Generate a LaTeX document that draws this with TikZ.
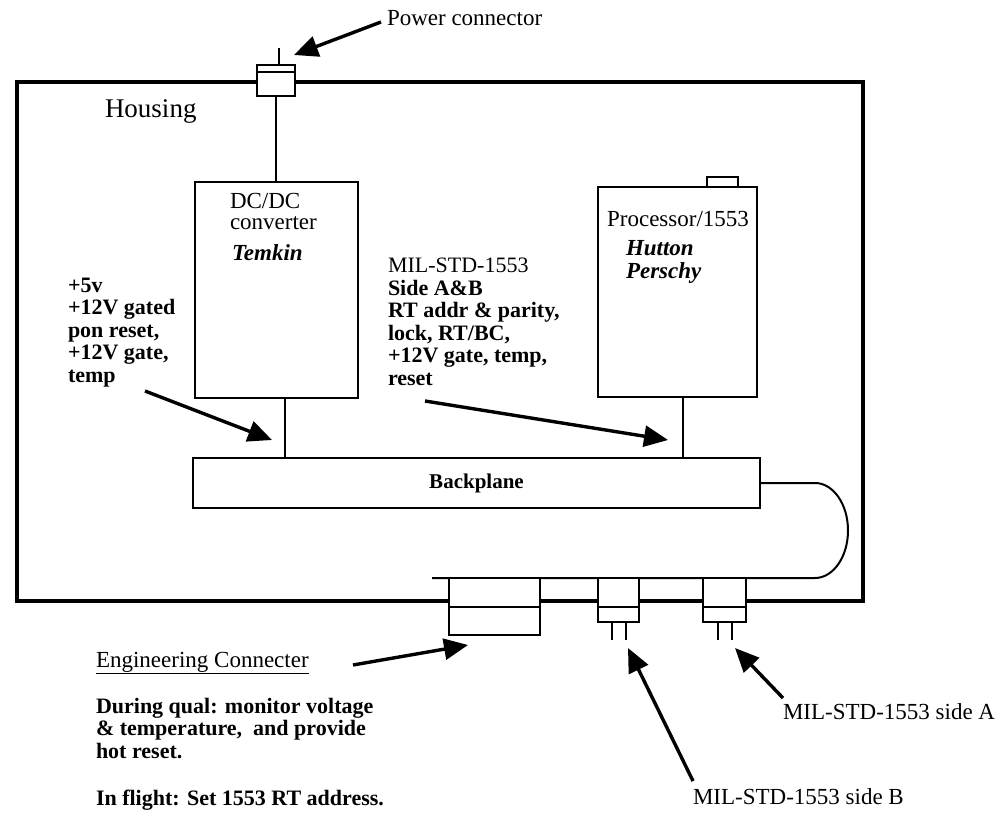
\documentclass[tikz,border=0pt]{standalone}
\usepackage{fontspec}
\setmainfont{Liberation Serif}
\usetikzlibrary{arrows.meta,calc}
\begin{document}
\begin{tikzpicture}[x=1pt,y=-1pt,
  every node/.style={inner sep=0pt, outer sep=0pt},
  box/.style={draw, line width=2.6pt, fill=white, rectangle, anchor=north west},
  wire/.style={line width=2pt},
  housing/.style={line width=3.8pt},
  pointer/.style={line width=3.4pt, -{Triangle[length=24pt,width=21pt]}},
  lbl/.style={font=\fontsize{23}{23}\selectfont, anchor=west},
  blk/.style={font=\fontsize{22}{22.5}\selectfont\bfseries, align=left, anchor=north west},
]
\useasboundingbox (0,0) rectangle (1003,814);

% housing
\node[draw, housing, rectangle, minimum width=846, minimum height=519, anchor=north west] (housing) at (17,82) {};
\node[anchor=west, font=\fontsize{27}{27}\selectfont] (housinglbl) at (105,111) {Housing};

% power connector
\node[box, minimum width=38, minimum height=31] (pc) at (257,65) {};
\draw[wire] ($(pc.north west)+(0,7)$) -- ($(pc.north east)+(0,7)$);
\coordinate (pintop) at (279,48);
\draw[wire] (pintop) -- (pintop |- pc.north);
\node[lbl] (pclbl) at (387,18) {Power connector};
\coordinate (pcarrow) at (294,55);
\draw[pointer] ($(pclbl.west)+(-6,4)$) -- (pcarrow);

% DC/DC converter
\node[box, minimum width=163, minimum height=216] (dcdc) at (195,182) {};
\draw[wire] (pc.south) -- (pc.south |- dcdc.north);
\node[lbl] (dc1) at (230,201) {DC/DC};
\node[lbl] (dc2) at (230,223) {converter};
\node[lbl, font=\fontsize{23}{23}\selectfont\bfseries\itshape] (temkin) at (232,253) {Temkin};

% processor
\node[box, line width=2pt, minimum width=31, minimum height=10, anchor=south west] (tab) at (707,187) {};
\node[box, minimum width=159, minimum height=210] (proc) at (598,187) {};
\node[font=\fontsize{23}{23}\selectfont] (proclbl) at (678,219) {Processor/1553};
\node[lbl, font=\fontsize{23}{23}\selectfont\bfseries\itshape, align=left, anchor=north west] (hutton) at (626,240) {Hutton\\Perschy};

% backplane
\node[box, minimum width=567, minimum height=50, font=\fontsize{21}{21}\selectfont\bfseries] (bp) at (193,458) {Backplane};
\coordinate (dx) at (285,0);
\coordinate (px) at (683,0);
\draw[wire] (dx |- dcdc.south) -- (dx |- bp.north);
\draw[wire] (px |- proc.south) -- (px |- bp.north);

% cable to connectors
\coordinate (cableend) at (432,578);
\draw[wire] (bp.east) -- ++(55,0) arc[start angle=-90, end angle=90, x radius=33, y radius=47.5] -- (cableend);

% engineering connector
\node[box, minimum width=91, minimum height=57] (eng) at (449,578) {};
\draw[wire] ($(eng.north west)+(0,29)$) -- ($(eng.north east)+(0,29)$);
% side B connector
\node[box, minimum width=41, minimum height=44] (sideb) at (598,578) {};
\draw[wire] ($(sideb.north west)+(0,29)$) -- ($(sideb.north east)+(0,29)$);
\draw[wire] ($(sideb.south)+(-7,0)$) -- ++(0,18);
\draw[wire] ($(sideb.south)+(7,0)$) -- ++(0,18);
% side A connector
\node[box, minimum width=43, minimum height=44] (sidea) at (703,578) {};
\draw[wire] ($(sidea.north west)+(0,29)$) -- ($(sidea.north east)+(0,29)$);
\draw[wire] ($(sidea.south)+(-7,0)$) -- ++(0,18);
\draw[wire] ($(sidea.south)+(7,0)$) -- ++(0,18);

% left signal list
\node[blk] (leftlist) at (68,278) {+5v\\+12V gated\\pon reset,\\+12V gate,\\temp};
\coordinate (lefttip) at (272,440);
\draw[pointer] (145,391) -- (lefttip);

% MIL list
\node[blk] (millist) at (388,258) {\mdseries MIL-STD-1553\\Side A\&B\\RT addr \& parity,\\lock, RT/BC,\\+12V gate, temp,\\reset};
\coordinate (miltip) at (668,440);
\draw[pointer] (425,401) -- (miltip);

% engineering connector notes
\node[lbl] (englbl) at (96,663) {\underline{Engineering Connecter}};
\coordinate (engtip) at (468,645);
\draw[pointer] (353,665) -- (engtip);
\node[blk] (qual) at (96,698) {During qual: monitor voltage\\\& temperature,\ \ and provide\\hot reset.};
\node[lbl, font=\fontsize{22}{22}\selectfont\bfseries] (flight) at (96,800) {In flight: Set 1553 RT address.};

% MIL side labels
\node[lbl] (sidealbl) at (783,712) {MIL-STD-1553 side A};
\coordinate (sideatip) at (735,648);
\draw[pointer] ($(sidealbl.west)+(0,-14)$) -- (sideatip);
\node[lbl] (sideblbl) at (693,797) {MIL-STD-1553 side B};
\coordinate (sidebtip) at (628,648);
\draw[pointer] ($(sideblbl.west)+(0,-16)$) -- (sidebtip);
\end{tikzpicture}
\end{document}
